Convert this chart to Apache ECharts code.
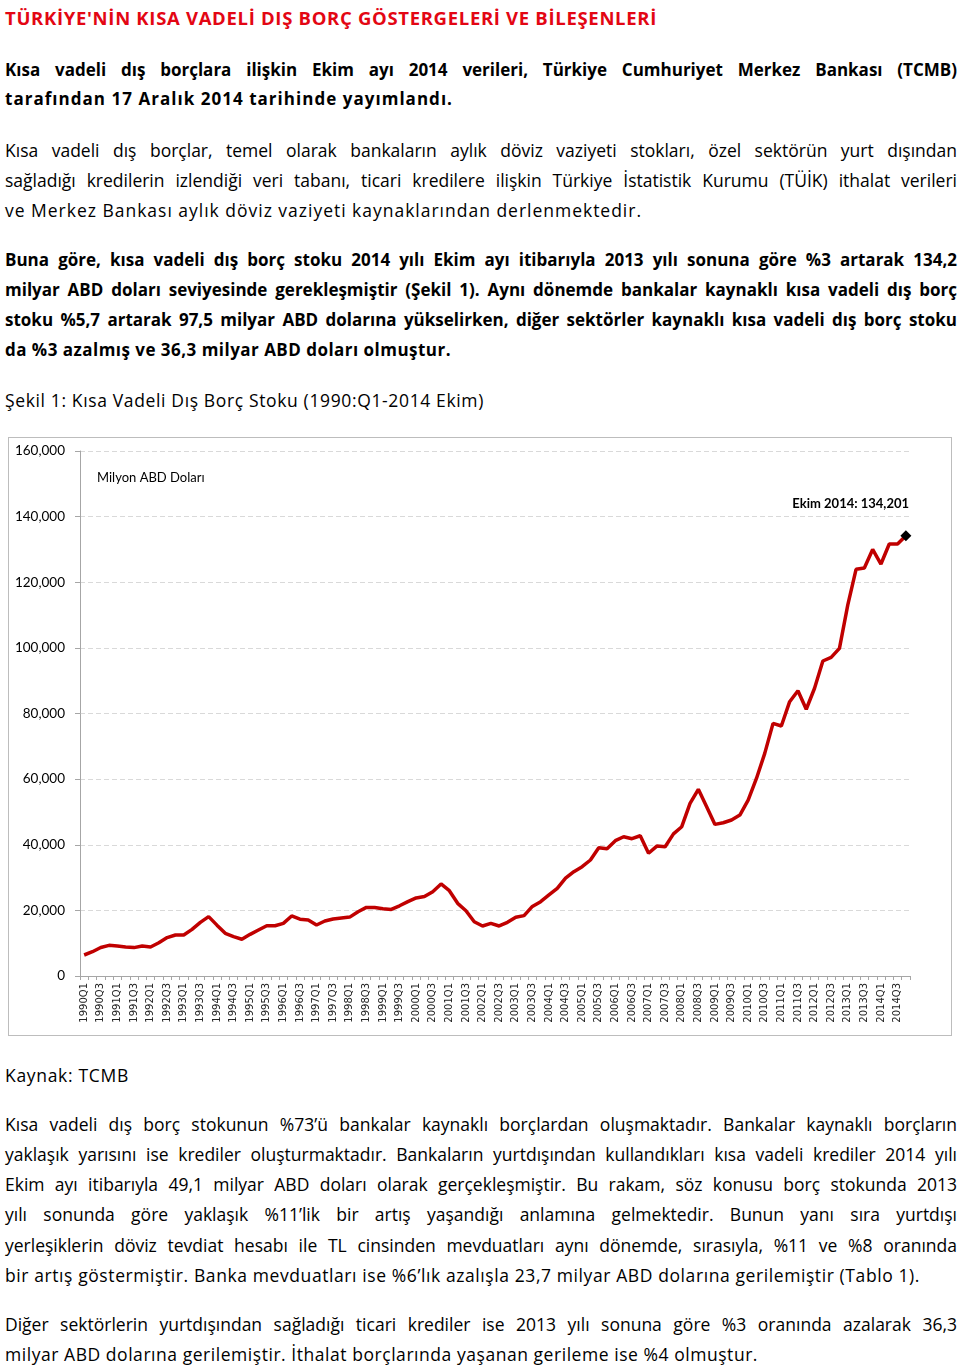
<!DOCTYPE html>
<html>
<head>
<meta charset="utf-8">
<script src="https://cdn.jsdelivr.net/npm/echarts@6/dist/echarts.min.js"></script>
<style>
  html, body { margin: 0; padding: 0; background: #fff; }
  body { width: 960px; height: 1369px; position: relative; overflow: hidden; font-family: "Open Sans", Lato, sans-serif; color: #000; }
  .ln { position: absolute; left: 5px; height: 30px; line-height: 30px; white-space: nowrap; font-size: 17.5px; }
  .b { font-weight: bold; font-size: 17px; }
  .title { color: #e30613; font-weight: bold; font-size: 18.5px; }
  #box { position: absolute; left: 8px; top: 437px; width: 944px; height: 599px; box-sizing: border-box; border: 1px solid #bdbdbd; }
  #chart { position: absolute; left: 9px; top: 438px; width: 942px; height: 597px; }
</style>
</head>
<body>
<div id="text"></div>
<div id="box"></div>
<div id="chart"></div>
<script>
// ---------- DATA ----------
const categories = [
  "1990Q1","1990Q2","1990Q3","1990Q4","1991Q1","1991Q2","1991Q3","1991Q4",
  "1992Q1","1992Q2","1992Q3","1992Q4","1993Q1","1993Q2","1993Q3","1993Q4",
  "1994Q1","1994Q2","1994Q3","1994Q4","1995Q1","1995Q2","1995Q3","1995Q4",
  "1996Q1","1996Q2","1996Q3","1996Q4","1997Q1","1997Q2","1997Q3","1997Q4",
  "1998Q1","1998Q2","1998Q3","1998Q4","1999Q1","1999Q2","1999Q3","1999Q4",
  "2000Q1","2000Q2","2000Q3","2000Q4","2001Q1","2001Q2","2001Q3","2001Q4",
  "2002Q1","2002Q2","2002Q3","2002Q4","2003Q1","2003Q2","2003Q3","2003Q4",
  "2004Q1","2004Q2","2004Q3","2004Q4","2005Q1","2005Q2","2005Q3","2005Q4",
  "2006Q1","2006Q2","2006Q3","2006Q4","2007Q1","2007Q2","2007Q3","2007Q4",
  "2008Q1","2008Q2","2008Q3","2008Q4","2009Q1","2009Q2","2009Q3","2009Q4",
  "2010Q1","2010Q2","2010Q3","2010Q4","2011Q1","2011Q2","2011Q3","2011Q4",
  "2012Q1","2012Q2","2012Q3","2012Q4","2013Q1","2013Q2","2013Q3","2013Q4",
  "2014Q1","2014Q2","2014Q3","2014 Ekim"
];
const debtStock = [
  6400, 7400, 8700, 9350, 9150, 8850, 8650, 9150,
  8850, 10150, 11700, 12500, 12500, 14200, 16350, 18100,
  15500, 13000, 12000, 11200, 12700, 14000, 15300, 15300,
  16050, 18300, 17300, 17100, 15550, 16750, 17350, 17650,
  17950, 19600, 20900, 20900, 20500, 20300, 21400, 22650,
  23800, 24200, 25700, 28050, 26000, 22150, 19900, 16550,
  15250, 16050, 15250, 16350, 17900, 18400, 21200, 22650,
  24700, 26700, 29800, 31800, 33300, 35350, 39100, 38800,
  41250, 42450, 41850, 42750, 37400, 39600, 39400, 43300,
  45500, 52600, 56900, 51600, 46200, 46700, 47550, 49050,
  53600, 60200, 67850, 77000, 76200, 83600, 86950, 81300,
  87700, 96000, 97100, 99850, 113050, 123950, 124350, 130000,
  125550, 131650, 131650, 134201
];
const yTicks = { min: 0, max: 160000, interval: 20000 };
const unitLabel = "Milyon ABD Doları";
const lastLabel = "Ekim 2014: 134,201";

// ---------- TEXT ----------
// [text, centerY, cls, targetWidth, justified]
const lines = [
  ["TÜRKİYE'NİN KISA VADELİ DIŞ BORÇ GÖSTERGELERİ VE BİLEŞENLERİ", 18, "title", 652, false],
  ["Kısa vadeli dış borçlara ilişkin Ekim ayı 2014 verileri, Türkiye Cumhuriyet Merkez Bankası (TCMB)", 70, "b", 952, true],
  ["tarafından 17 Aralık 2014 tarihinde yayımlandı.", 99, "b", 448, false],
  ["Kısa vadeli dış borçlar, temel olarak bankaların aylık döviz vaziyeti stokları, özel sektörün yurt dışından", 150, "", 952, true],
  ["sağladığı kredilerin izlendiği veri tabanı, ticari kredilere ilişkin Türkiye İstatistik Kurumu (TÜİK) ithalat verileri", 180, "", 952, true],
  ["ve Merkez Bankası aylık döviz vaziyeti kaynaklarından derlenmektedir.", 210, "", 637, false],
  ["Buna göre, kısa vadeli dış borç stoku 2014 yılı Ekim ayı itibarıyla 2013 yılı sonuna göre %3 artarak 134,2", 260, "b", 952, true],
  ["milyar ABD doları seviyesinde gerekleşmiştir (Şekil 1). Aynı dönemde bankalar kaynaklı kısa vadeli dış borç", 290, "b", 952, true],
  ["stoku %5,7 artarak 97,5 milyar ABD dolarına yükselirken, diğer sektörler kaynaklı kısa vadeli dış borç stoku", 320, "b", 952, true],
  ["da %3 azalmış ve 36,3 milyar ABD doları olmuştur.", 350, "b", 446, false],
  ["Şekil 1: Kısa Vadeli Dış Borç Stoku (1990:Q1-2014 Ekim)", 400, "", 479, false],
  ["Kaynak: TCMB", 1075, "", 124, false],
  ["Kısa vadeli dış borç stokunun %73’ü bankalar kaynaklı borçlardan oluşmaktadır. Bankalar kaynaklı borçların", 1124, "", 952, true],
  ["yaklaşık yarısını ise krediler oluşturmaktadır. Bankaların yurtdışından kullandıkları kısa vadeli krediler 2014 yılı", 1154, "", 952, true],
  ["Ekim ayı itibarıyla 49,1 milyar ABD doları olarak gerçekleşmiştir. Bu rakam, söz konusu borç stokunda 2013", 1184, "", 952, true],
  ["yılı sonunda göre yaklaşık %11’lik bir artış yaşandığı anlamına gelmektedir. Bunun yanı sıra yurtdışı", 1214, "", 952, true],
  ["yerleşiklerin döviz tevdiat hesabı ile TL cinsinden mevduatları aynı dönemde, sırasıyla, %11 ve %8 oranında", 1245, "", 952, true],
  ["bir artış göstermiştir. Banka mevduatları ise %6’lık azalışla 23,7 milyar ABD dolarına gerilemiştir (Tablo 1).", 1275, "", 915, false],
  ["Diğer sektörlerin yurtdışından sağladığı ticari krediler ise 2013 yılı sonuna göre %3 oranında azalarak 36,3", 1324, "", 952, true],
  ["milyar ABD dolarına gerilemiştir. İthalat borçlarında yaşanan gerileme ise %4 olmuştur.", 1354, "", 753, false]
];

const host = document.getElementById('text');
const els = lines.map(function (l) {
  const d = document.createElement('div');
  d.className = 'ln ' + l[2];
  d.style.top = (l[1] - 15) + 'px';
  const s = document.createElement('span');
  s.textContent = l[0];
  d.appendChild(s);
  host.appendChild(d);
  return [s, l];
});
function fitText() {
  els.forEach(function (e) {
    const s = e[0], l = e[1];
    s.style.wordSpacing = '0px'; s.style.letterSpacing = '0px';
    const w = s.getBoundingClientRect().width;
    const T = l[3];
    const txt = l[0];
    const spaces = (txt.match(/ /g) || []).length;
    if (l[4] && w <= T && spaces > 0) {
      s.style.wordSpacing = ((T - w) / spaces) + 'px';
    } else {
      const n = txt.length;
      s.style.letterSpacing = ((T - w) / n) + 'px';
    }
  });
}
fitText();
if (document.fonts && document.fonts.ready) document.fonts.ready.then(fitText);

// ---------- CHART ----------
const chart = echarts.init(document.getElementById('chart'), null, { renderer: 'canvas' });
const seriesData = debtStock.map(function (v, i) {
  if (i === debtStock.length - 1) {
    return { value: v, symbol: 'diamond', symbolSize: 11, itemStyle: { color: '#000' } };
  }
  return { value: v, symbol: 'none' };
});
chart.setOption({
  animation: false,
  grid: { left: 71, right: 41, top: 13, bottom: 59, containLabel: false },
  xAxis: {
    type: 'category',
    data: categories,
    boundaryGap: true,
    axisLine: { show: true, lineStyle: { color: '#a6a6a6', width: 1 } },
    axisTick: { show: true, interval: 0, length: 4, lineStyle: { color: '#a6a6a6' } },
    axisLabel: {
      interval: 1, rotate: 90, margin: 7,
      fontFamily: 'DejaVu Sans', fontSize: 10, color: '#222'
    },
    splitLine: { show: false }
  },
  yAxis: {
    type: 'value',
    min: yTicks.min, max: yTicks.max, interval: yTicks.interval,
    axisLine: { show: true, lineStyle: { color: '#a6a6a6', width: 1 } },
    axisTick: { show: true, length: 5, lineStyle: { color: '#a6a6a6' } },
    axisLabel: {
      margin: 15, fontFamily: 'Lato', fontSize: 13.5, color: '#000',
      formatter: function (v) { return v.toLocaleString('en-US'); }
    },
    splitLine: { show: true, lineStyle: { color: '#d9d9d9', type: [5, 3], width: 1 } }
  },
  graphic: [
    { type: 'text', left: 88, top: 33, style: { text: unitLabel, fontFamily: 'Lato', fontSize: 13, fill: '#000' } },
    { type: 'text', right: 42, top: 59, style: { text: lastLabel, fontFamily: 'Lato', fontWeight: 'bold', fontSize: 13, fill: '#000' } }
  ],
  series: [{
    type: 'line',
    data: seriesData,
    showAllSymbol: true,
    symbol: 'none',
    lineStyle: { color: '#c00000', width: 3.5 },
    itemStyle: { color: '#c00000' },
    z: 3
  }]
});
</script>
</body>
</html>
